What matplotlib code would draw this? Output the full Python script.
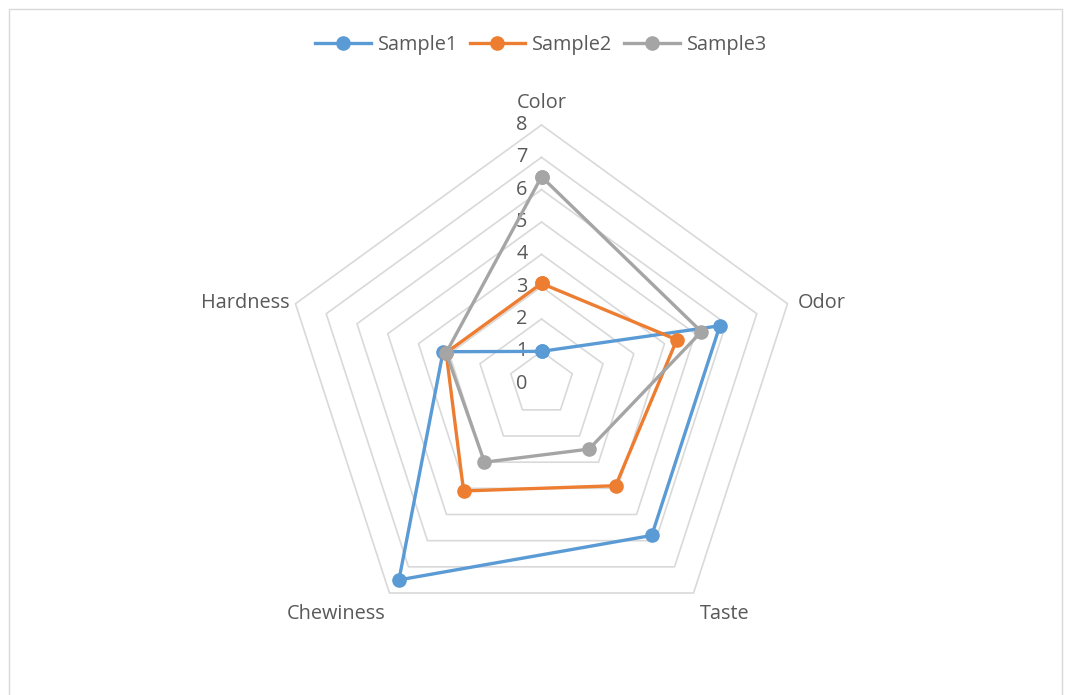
import numpy as np
import matplotlib
matplotlib.use("Agg")
import matplotlib.pyplot as plt
from matplotlib.patches import Rectangle

# Sensory scores per attribute
categories = ["Color", "Odor", "Taste", "Chewiness", "Hardness"]
sample1 = [1.0, 5.8, 5.8, 7.5, 3.2]
sample2 = [3.1, 4.4, 3.9, 4.1, 3.1]
sample3 = [6.4, 5.2, 2.5, 3.0, 3.1]
series_names = ["Sample1", "Sample2", "Sample3"]
tick_values = [0, 1, 2, 3, 4, 5, 6, 7, 8]

colors = ["#5B9BD5", "#ED7D31", "#A5A5A5"]
text_color = "#595959"
grid_color = "#D9D9D9"
plt.rcParams["font.family"] = ["Open Sans", "DejaVu Sans"]
FS = 14.3

W, H = 1069, 695
fig = plt.figure(figsize=(W / 100, H / 100), dpi=100)

# chart area border
fig.patches.append(Rectangle((9 / W, -0.01), (1062 - 9) / W, 1.01 - 9 / H,
                             transform=fig.transFigure, fill=False,
                             edgecolor=grid_color, linewidth=1.0))

cx, cy, R = 541.5, 383.7, 258.7
ax = fig.add_axes([(cx - R) / W, 1 - (cy + R) / H, 2 * R / W, 2 * R / H],
                  projection="polar")
ax.set_theta_offset(np.pi / 2)
ax.set_theta_direction(-1)
ax.set_ylim(0, tick_values[-1])
ax.grid(False)
ax.spines["polar"].set_visible(False)
ax.set_xticks([])
ax.set_yticks([])
ax.patch.set_alpha(0)

n = len(categories)
theta = np.linspace(0, 2 * np.pi, n, endpoint=False)
theta_c = np.append(theta, theta[0])

# pentagon gridlines
for v in tick_values:
    ax.plot(theta_c, [v] * (n + 1), color=grid_color, lw=1.2, zorder=1,
            clip_on=False)

# value labels along the first axis
for v in tick_values:
    ax.annotate(str(v), xy=(0, v), xytext=(-10, 0), textcoords="offset points",
                ha="right", va="center", fontsize=FS, color=text_color,
                annotation_clip=False)

# category labels
label_specs = {
    "Color": ((0, 15.5), "center", "center"),
    "Odor": ((7, 0.5), "left", "center"),
    "Taste": ((4.5, -15), "left", "center"),
    "Chewiness": ((-2.5, -15), "right", "center"),
    "Hardness": ((-4, 0.5), "right", "center"),
}
rmax = tick_values[-1]
for t, name in zip(theta, categories):
    off, ha, va = label_specs[name]
    ax.annotate(name, xy=(t, rmax), xytext=off, textcoords="offset points",
                ha=ha, va=va, fontsize=FS, color=text_color,
                annotation_clip=False)

handles = []
for vals, c, name in zip([sample1, sample2, sample3], colors, series_names):
    h, = ax.plot(theta_c, vals + vals[:1], color=c, lw=2.4, marker="o",
                 markersize=9.5, label=name, zorder=3, clip_on=False)
    handles.append(h)

fig.legend(handles=handles, loc="center", bbox_to_anchor=(541 / W, 1 - 45 / H),
           ncol=3, frameon=False, fontsize=FS, handlelength=2.8,
           handletextpad=0.35, columnspacing=0.6, labelcolor=text_color)

fig.savefig("out.png", dpi=100)
